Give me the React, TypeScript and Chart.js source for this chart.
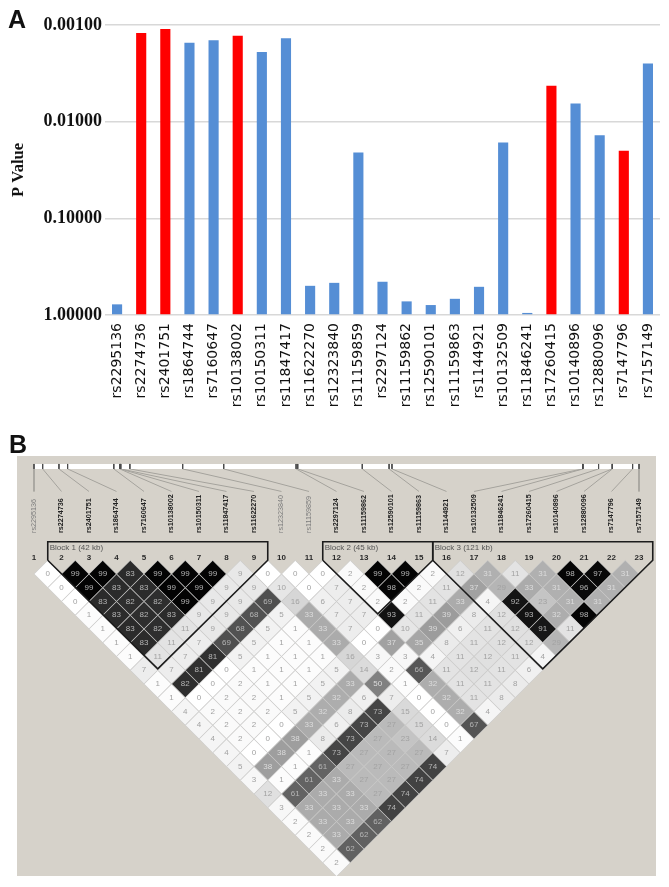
import React, { useEffect, useRef } from "react";
import { Chart, registerables } from "chart.js";

Chart.register(...registerables);

const snpNames = ["rs2295136","rs2274736","rs2401751","rs1864744","rs7160647","rs10138002","rs10150311","rs11847417","rs11622270","rs12323840","rs11159859","rs2297124","rs11159862","rs12590101","rs11159863","rs1144921","rs10132509","rs11846241","rs17260415","rs10140896","rs12880096","rs7147796","rs7157149"];
const pValues = [0.776,0.00121,0.0011,0.00153,0.00144,0.00129,0.0019,0.00137,0.499,0.465,0.0209,0.453,0.723,0.789,0.68,0.511,0.0164,0.952,0.00425,0.00647,0.0138,0.02,0.0025];
const highlightedSnps = ["rs2274736","rs2401751","rs10138002","rs17260415","rs7147796"];
const pTicks = [0.001,0.01,0.1,1];

const ldSnpNames = ["rs2295136","rs2274736","rs2401751","rs1864744","rs7160647","rs10138002","rs10150311","rs11847417","rs11622270","rs12323840","rs11159859","rs2297124","rs11159862","rs12590101","rs11159863","rs1144921","rs10132509","rs11846241","rs17260415","rs10140896","rs12880096","rs7147796","rs7157149"];
const greyedSnps = ["rs2295136","rs12323840","rs11159859"];
const snpMapKb = [0,4.2,12.1,16.3,38.7,41.6,41.9,42.1,46.5,72.1,92,127.1,127.9,159.2,172.2,173.6,266,266.3,273.8,280.4,280.5,290.3,293.4];

// r2 x 100 per marker distance: row n holds pairs (i, i+n)
const ldDistance1 = [0,99,99,83,99,99,99,9,0,0,0,2,99,99,2,12,31,11,31,98,97,31];
const ldDistance2 = [0,99,83,83,99,99,9,9,10,0,7,2,98,2,11,37,29,33,31,96,31];
const ldDistance3 = [0,83,82,82,99,9,9,69,16,6,7,2,2,11,33,4,92,23,31,31];
const ldDistance4 = [1,83,82,83,9,9,68,5,33,7,7,93,11,39,8,12,93,32,98];
const ldDistance5 = [1,83,82,11,9,68,5,1,33,7,0,10,39,6,11,12,91,11];
const ldDistance6 = [1,83,11,7,69,5,1,1,33,0,37,35,8,11,12,12,29];
const ldDistance7 = [1,11,7,81,5,1,1,1,16,3,3,4,11,12,11,4];
const ldDistance8 = [7,7,81,0,1,1,1,5,14,2,66,11,12,11,6];
const ldDistance9 = [1,82,0,2,1,1,5,33,50,1,32,11,11,8];
const ldDistance10 = [1,0,2,2,1,5,32,6,7,0,32,11,8];
const ldDistance11 = [4,2,2,2,5,32,8,73,15,0,32,4];
const ldDistance12 = [4,2,2,0,33,6,73,27,15,0,67];
const ldDistance13 = [4,2,0,38,8,73,27,23,14,1];
const ldDistance14 = [4,0,38,1,73,27,27,27,7];
const ldDistance15 = [5,38,1,61,27,27,27,74];
const ldDistance16 = [3,1,61,33,27,27,74];
const ldDistance17 = [12,61,33,33,27,74];
const ldDistance18 = [3,33,33,33,74];
const ldDistance19 = [2,33,33,62];
const ldDistance20 = [2,33,62];
const ldDistance21 = [2,62];
const ldDistance22 = [2];
const ldRows = [ldDistance1,ldDistance2,ldDistance3,ldDistance4,ldDistance5,ldDistance6,ldDistance7,ldDistance8,ldDistance9,ldDistance10,ldDistance11,ldDistance12,ldDistance13,ldDistance14,ldDistance15,ldDistance16,ldDistance17,ldDistance18,ldDistance19,ldDistance20,ldDistance21,ldDistance22];

const blockNames = ["Block 1 (42 kb)","Block 2 (45 kb)","Block 3 (121 kb)"];
const blockFirstSnp = [2,12,16];
const blockLastSnp = [9,15,23];

const cells = ldRows.flatMap((row, r) =>
  row.map((v, i) => ({ x: i + 1 + (r + 1) / 2, y: r + 1, v }))
);
const cellFill = (v: number) => {
  const g = Math.round(255 * (1 - v / 100));
  return `rgb(${g},${g},${g})`;
};
const cellText = (v: number) => (v >= 60 ? "#b5b5b5" : v >= 30 ? "#dcdcdc" : "#a2a2a2");

const MAP_TOP = -7;
const MAP_BOTTOM = -6.64;
const LINE_END = -5;
const LABEL_BASE = -1.98;
const NUMBER_ROW = -0.19;
const BLOCK_TOP = -1.35;
const BLOCK_LABEL = -0.87;
const mapCol = (kb: number) => 1 + (kb / snpMapKb[snpMapKb.length - 1]) * 22;

const ldLabels = {
  id: "ldLabels",
  afterDatasetsDraw(chart: any) {
    const { ctx, scales } = chart;
    const X = scales.x, Y = scales.y;
    ctx.save();
    ctx.textAlign = "center";
    ctx.textBaseline = "middle";
    ctx.font = "8px 'Liberation Sans'";
    cells.forEach((c) => {
      ctx.fillStyle = cellText(c.v);
      ctx.fillText(String(c.v), X.getPixelForValue(c.x), Y.getPixelForValue(c.y));
    });
    ctx.font = "bold 8px 'Liberation Sans'";
    ctx.fillStyle = "#2a2a2a";
    ldSnpNames.forEach((_, i) => {
      ctx.fillText(String(i + 1), X.getPixelForValue(i + 1), Y.getPixelForValue(NUMBER_ROW));
    });
    ldSnpNames.forEach((name, i) => {
      const grey = greyedSnps.includes(name);
      ctx.save();
      ctx.translate(X.getPixelForValue(i + 1), Y.getPixelForValue(LABEL_BASE));
      ctx.rotate(-Math.PI / 2);
      ctx.textAlign = "left";
      ctx.font = grey ? "7.2px 'Liberation Sans'" : "bold 7.2px 'Liberation Sans'";
      ctx.fillStyle = grey ? "#7c7c7c" : "#222";
      ctx.fillText(name, 0, 0);
      ctx.restore();
    });
    ctx.font = "8px 'Liberation Sans'";
    ctx.fillStyle = "#555";
    ctx.textAlign = "left";
    blockNames.forEach((name, i) => {
      ctx.fillText(name, X.getPixelForValue(blockFirstSnp[i] - 0.5) + 2, Y.getPixelForValue(BLOCK_LABEL));
    });
    ctx.restore();
  },
};

const line = (data: any[], color: string, width: number, order: number) => ({
  type: "scatter",
  showLine: true,
  data,
  borderColor: color,
  borderWidth: width,
  pointRadius: 0,
  order,
  tension: 0,
});

export default function App() {
  const barRef = useRef<HTMLCanvasElement>(null);
  const ldRef = useRef<HTMLCanvasElement>(null);

  useEffect(() => {
    const bar = new Chart(barRef.current!, {
      type: "bar",
      data: {
        labels: snpNames,
        datasets: [
          {
            data: pValues,
            base: 1,
            backgroundColor: snpNames.map((s) => (highlightedSnps.includes(s) ? "#ff0000" : "#558ed5")),
            barPercentage: 0.42,
            categoryPercentage: 1,
          } as any,
        ],
      },
      options: {
        animation: false,
        responsive: false,
        layout: { padding: { top: 25, right: 9, left: 0, bottom: 0 } },
        plugins: { legend: { display: false }, tooltip: { enabled: false } },
        scales: {
          x: {
            grid: { display: false },
            border: { display: false },
            afterFit: (s: any) => { s.height = 115; },
            ticks: {
              autoSkip: false,
              minRotation: 90,
              maxRotation: 90,
              padding: 0,
              color: "#111",
              font: { family: "'DejaVu Sans'", size: 14 },
            },
          },
          y: {
            type: "logarithmic",
            reverse: true,
            min: 0.001,
            max: 1,
            afterFit: (s: any) => { s.width = 105; },
            afterBuildTicks: (s: any) => { s.ticks = pTicks.map((value) => ({ value })); },
            grid: { color: "#d8d8d8", lineWidth: 1.5, drawTicks: false },
            border: { display: false },
            title: {
              display: true,
              text: "P Value",
              color: "#111",
              padding: { top: 9, bottom: 0 },
              font: { family: "'Liberation Serif'", size: 16.5, weight: "bold" },
            },
            ticks: {
              padding: 3,
              color: "#111",
              font: { family: "'Liberation Serif'", size: 18, weight: "bold" },
              callback: (v: any) => Number(v).toFixed(5),
            },
          },
        },
      } as any,
    });

    const connectors = snpMapKb.flatMap((kb, i) => [
      line([{ x: mapCol(kb), y: MAP_TOP }, { x: mapCol(kb), y: MAP_BOTTOM }], "#4a4a4a", 1, 2),
      line([{ x: mapCol(kb), y: MAP_BOTTOM }, { x: i + 1, y: LINE_END }], "#a5a39d", 1, 4),
    ]);
    const strip = line([{ x: 1, y: (MAP_TOP + MAP_BOTTOM) / 2 }, { x: 23, y: (MAP_TOP + MAP_BOTTOM) / 2 }], "#ffffff", 5, 3);
    const blocks = blockFirstSnp.map((first, i) => {
      const l = first - 0.5;
      const r = blockLastSnp[i] + 0.5;
      const apex = { x: (l + r) / 2, y: (r - l) - 0.1 };
      return line(
        [{ x: l, y: 0 }, { x: l, y: BLOCK_TOP }, { x: r, y: BLOCK_TOP }, { x: r, y: 0 }, apex, { x: l, y: 0 }],
        "#1c1c1c",
        1.6,
        0
      );
    });

    const ld = new Chart(ldRef.current!, {
      type: "scatter",
      data: {
        datasets: [
          {
            data: cells.map((c) => ({ x: c.x, y: c.y })),
            pointStyle: "rectRot",
            pointRadius: 13.6,
            pointBorderWidth: 0.8,
            pointBorderColor: "rgba(200,200,200,0.8)",
            pointBackgroundColor: cells.map((c) => cellFill(c.v)),
            order: 1,
          },
          strip,
          ...connectors,
          ...blocks,
        ] as any,
      },
      options: {
        animation: false,
        responsive: false,
        layout: { padding: 0, autoPadding: false },
        plugins: { legend: { display: false }, tooltip: { enabled: false } },
        scales: {
          x: { type: "linear", display: false, min: 0.3818, max: 23.618 },
          y: { type: "linear", display: false, reverse: true, min: -7.58, max: 22.96 },
        },
      } as any,
      plugins: [ldLabels],
    });

    return () => {
      bar.destroy();
      ld.destroy();
    };
  }, []);

  const letter: React.CSSProperties = {
    position: "absolute",
    fontFamily: "'Liberation Sans'",
    fontWeight: "bold",
    fontSize: 25,
    lineHeight: "25px",
    color: "#111",
  };

  return (
    <div style={{ position: "absolute", left: 0, top: 0, width: 669, height: 887, background: "#fff", overflow: "hidden" }}>
      <canvas ref={barRef} width={669} height={430} style={{ position: "absolute", left: 0, top: 0, width: 669, height: 430 }} />
      <canvas ref={ldRef} width={639} height={420} style={{ position: "absolute", left: 17, top: 456, width: 639, height: 420, background: "#d6d2ca" }} />
      <div style={{ ...letter, left: 8, top: 7 }}>A</div>
      <div style={{ ...letter, left: 9, top: 432 }}>B</div>
    </div>
  );
}
